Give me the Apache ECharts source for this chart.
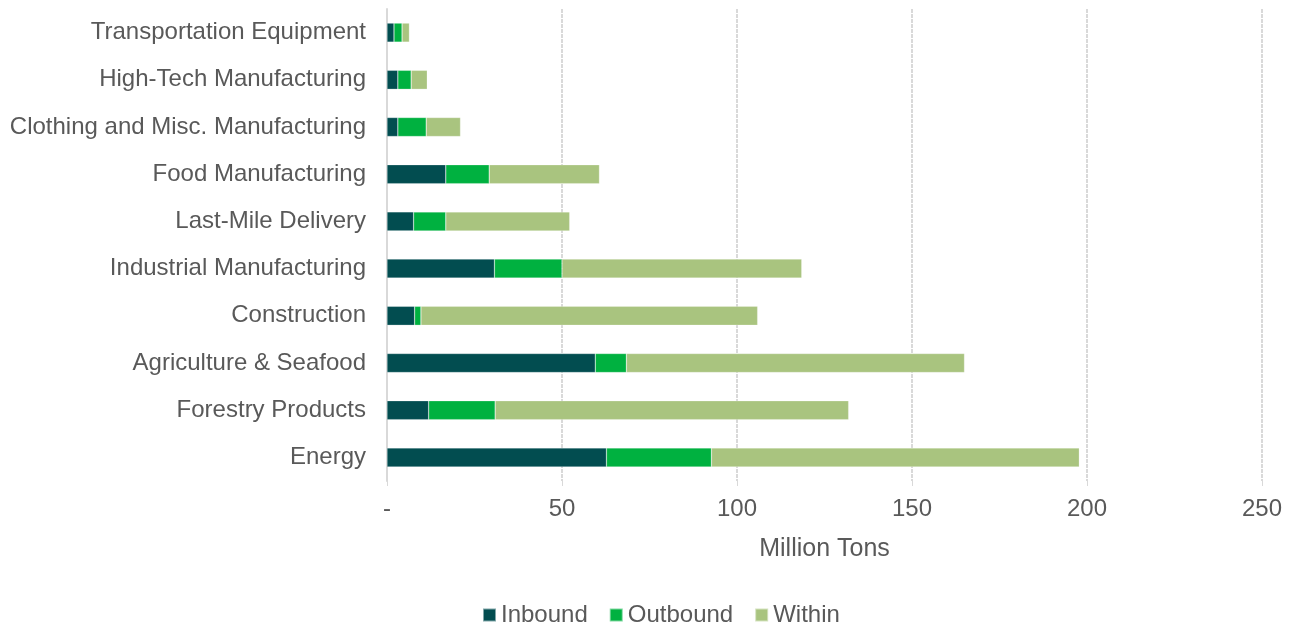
<!DOCTYPE html>
<html>
<head>
<meta charset="utf-8">
<script src="https://cdn.jsdelivr.net/npm/echarts@6/dist/echarts.min.js"></script>
<style>
  html, body { margin: 0; padding: 0; background: #fff; }
  #chart { width: 1292px; height: 626px; }
</style>
</head>
<body>
<div id="chart"></div>
<script>
  // categories, bottom to top
  const categories = [
    'Energy', 'Forestry Products', 'Agriculture & Seafood', 'Construction',
    'Industrial Manufacturing', 'Last-Mile Delivery', 'Food Manufacturing',
    'Clothing and Misc. Manufacturing', 'High-Tech Manufacturing', 'Transportation Equipment'
  ];
  const inbound  = [62.7, 11.9, 59.5, 7.9, 30.7, 7.6, 16.8, 3.1, 3.1, 2.0];
  const outbound = [30.0, 19.0, 8.9, 1.8, 19.3, 9.2, 12.4, 8.1, 3.8, 2.3];
  const within   = [105.1, 101.0, 96.6, 96.2, 68.5, 35.4, 31.5, 9.8, 4.6, 2.1];

  const colors = ['#024D50', '#00B140', '#A9C47F'];
  const font = "'Liberation Sans', Arial, sans-serif";

  const chart = echarts.init(document.getElementById('chart'));

  function barSeries(name, data) {
    return {
      name: name,
      type: 'bar',
      stack: 'total',
      data: data,
      barWidth: 19,
      itemStyle: { borderColor: 'rgba(255,255,255,0.5)', borderWidth: 0.5 }
    };
  }

  chart.setOption({
    animation: false,
    color: colors,
    grid: { left: 387, right: 30, top: 9, bottom: 145, containLabel: false },
    xAxis: {
      type: 'value',
      min: 0,
      max: 250,
      interval: 50,
      name: 'Million Tons',
      nameLocation: 'middle',
      nameGap: 56,
      nameTextStyle: { color: '#595959', fontSize: 25, fontFamily: font },
      axisLine: { show: false },
      axisTick: { show: true, length: 5, lineStyle: { color: '#D9D9D9' } },
      axisLabel: {
        color: '#595959', fontSize: 24, fontFamily: font, margin: 16,
        formatter: v => v === 0 ? '-' : String(v)
      },
      splitLine: { show: true, lineStyle: { color: '#D9D9D9', width: 2, type: [4, 1] } }
    },
    yAxis: {
      type: 'category',
      data: categories,
      axisLine: { show: true, lineStyle: { color: '#D9D9D9', width: 2 } },
      axisTick: { show: false },
      axisLabel: { color: '#595959', fontSize: 24, fontFamily: font, margin: 21 }
    },
    legend: {
      top: 598,
      left: 477,
      itemWidth: 13,
      itemHeight: 13,
      itemGap: 21,
      icon: 'rect',
      textStyle: { color: '#595959', fontSize: 24, fontFamily: font, padding: [0, 0, 0, 0] },
      data: ['Inbound', 'Outbound', 'Within']
    },
    series: [
      barSeries('Inbound', inbound),
      barSeries('Outbound', outbound),
      barSeries('Within', within)
    ]
  });
</script>
</body>
</html>
